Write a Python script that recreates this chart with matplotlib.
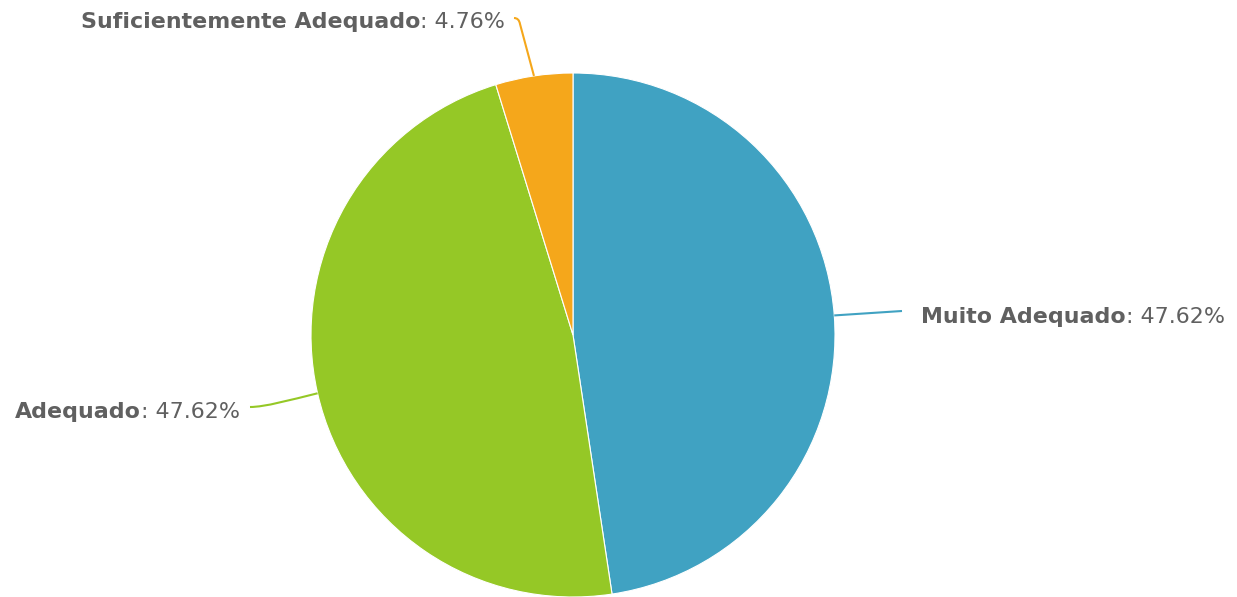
import numpy as np
import matplotlib
matplotlib.use("Agg")
import matplotlib.pyplot as plt
from matplotlib.path import Path
import matplotlib.patches as mpatches

plt.rcParams["font.family"] = ["DejaVu Sans"]

labels = ["Muito Adequado", "Adequado", "Suficientemente Adequado"]
values = [47.62, 47.62, 4.76]
colors = ["#40A2C2", "#95C826", "#F5A71B"]

W, H = 1237, 597
fig = plt.figure(figsize=(W / 100, H / 100), dpi=100)
ax = fig.add_axes([0, 0, 1, 1])

cx, cy, r = 573, H - 335, 262
wedges, _ = ax.pie(values, colors=colors, startangle=90, counterclock=False,
                   center=(cx, cy), radius=r,
                   wedgeprops=dict(edgecolor="white", linewidth=0.8))
ax.set_xlim(0, W)
ax.set_ylim(0, H)
ax.set_aspect("equal")
ax.axis("off")

txt_color = "#606060"
fs = 15.9

# label anchors (pixel coords, y from top)
label_pos = {
    0: (921, 317, "left"),
    1: (240, 412, "right"),
    2: (505, 22, "right"),
}


def edge_point(w):
    ang = np.deg2rad((w.theta1 + w.theta2) / 2)
    return cx + r * np.cos(ang), cy + r * np.sin(ang)


for i, w in enumerate(wedges):
    ex, ey = edge_point(w)
    if i == 0:
        verts = [(ex, ey), (902, H - 311)]
        codes = [Path.MOVETO, Path.LINETO]
    elif i == 1:
        verts = [(ex, ey), (290, H - 400), (265, H - 407), (250, H - 407)]
        codes = [Path.MOVETO, Path.CURVE4, Path.CURVE4, Path.CURVE4]
    else:
        verts = [(ex, ey), (520, H - 24), (519, H - 18), (514, H - 18)]
        codes = [Path.MOVETO, Path.LINETO, Path.CURVE3, Path.CURVE3]
    ax.add_patch(mpatches.PathPatch(Path(verts, codes), fill=False,
                                    edgecolor=colors[i], linewidth=1.5))

    x, y, side = label_pos[i]
    pct = ": %.2f%%" % values[i]
    if side == "left":
        t1 = ax.text(x, H - y, labels[i], fontsize=fs, fontweight="bold",
                     color=txt_color, ha="left", va="center")
        ax.annotate(pct, xy=(1, 0), xycoords=t1, ha="left", va="bottom",
                    fontsize=fs, color=txt_color)
    else:
        t2 = ax.text(x, H - y, pct, fontsize=fs, color=txt_color,
                     ha="right", va="center")
        ax.annotate(labels[i], xy=(0, 0), xycoords=t2, ha="right", va="bottom",
                    fontsize=fs, fontweight="bold", color=txt_color)

fig.savefig("out.png", dpi=100, facecolor="white")
